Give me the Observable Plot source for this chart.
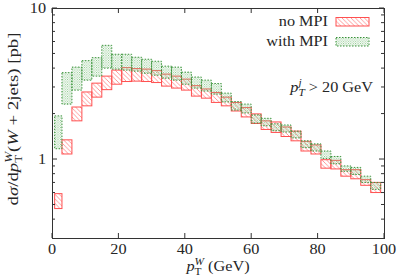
<!DOCTYPE html>
<html><head><meta charset="utf-8">
<script src="https://cdn.jsdelivr.net/npm/d3@7"></script>
<script src="https://cdn.jsdelivr.net/npm/@observablehq/plot@0.6"></script>
<style>body{margin:0;background:#fff}#chart{width:399px;height:279px}</style>
</head><body><div id="chart"></div>
<script>
// ---- data ----
const binStart = [0.8,3,6,9,12,15,18,21,24,27,30,33,36,39,42,45,48,51,54,57,60,63,66,69,72,75,78,81,84,87,90,93,96];
const binEnd   = [3,6,9,12,15,18,21,24,27,30,33,36,39,42,45,48,51,54,57,60,63,66,69,72,75,78,81,84,87,90,93,96,99];
const noMpiLow    = [0.47,1.08,1.79,2.25,2.57,2.88,3.13,3.26,3.28,3.26,3.21,3.04,2.95,2.86,2.61,2.53,2.37,2.25,2.08,1.90,1.72,1.57,1.50,1.41,1.32,1.13,1.08,0.87,0.86,0.77,0.74,0.67,0.60];
const noMpiHigh   = [0.59,1.34,2.21,2.78,3.18,3.54,3.88,4.03,3.97,3.94,3.85,3.65,3.54,3.38,3.06,2.91,2.76,2.57,2.37,2.19,1.99,1.79,1.76,1.63,1.53,1.31,1.24,0.99,0.98,0.85,0.85,0.73,0.70];
const withMpiLow  = [1.17,2.31,2.86,3.33,3.54,4.00,3.94,3.88,3.82,3.70,3.59,3.43,3.33,3.13,2.95,2.82,2.69,2.39,2.11,2.02,1.73,1.66,1.54,1.51,1.38,1.19,1.13,1.01,0.93,0.83,0.79,0.70,0.63];
const withMpiHigh = [1.93,3.73,4.06,4.48,4.69,5.66,4.94,4.94,4.72,4.58,4.44,4.12,4.06,3.76,3.49,3.33,3.16,2.73,2.40,2.31,1.96,1.86,1.71,1.68,1.53,1.32,1.26,1.13,1.04,0.90,0.88,0.77,0.70];
const seriesNames = ["no MPI", "with MPI"];
const xTicks = [0, 20, 40, 60, 80, 100];
const yTicks = [1, 10];
const yMinorTicks = [0.4,0.5,0.6,0.7,0.8,0.9,2,3,4,5,6,7,8,9];

// ---- build tables ----
const rows = (lo, hi, name) => binStart.map((x1, i) => ({x1, x2: binEnd[i], y1: lo[i], y2: hi[i], name}));
const noMpi = rows(noMpiLow, noMpiHigh, seriesNames[0]);
const withMpi = rows(withMpiLow, withMpiHigh, seriesNames[1]);

const FONT = "'Liberation Serif', serif";
const TXT = "#262626";
const RED = "#ff5050", RED_H = "#ff8c8c", GREEN = "#3a923a", GREEN_D = "#7cc07c";
const SX = 1.16; // stretch along the text direction

const chart = Plot.plot({
  width: 399, height: 279,
  marginLeft: 52, marginRight: 15, marginTop: 8, marginBottom: 41,
  style: {fontFamily: FONT, fontSize: "14px", color: TXT, background: "#fff"},
  x: {domain: [0, 100], axis: null},
  y: {type: "log", domain: [0.3, 10], axis: null},
  marks: [
    Plot.rect(noMpi, {x1: "x1", x2: "x2", y1: "y1", y2: "y2", fill: "url(#hatchRed)", stroke: RED, strokeWidth: 1}),
    Plot.rect(withMpi, {x1: "x1", x2: "x2", y1: "y1", y2: "y2", fill: "url(#dotGreen)", stroke: GREEN, strokeWidth: 1, strokeDasharray: "1.5,1.5"}),
    Plot.frame({stroke: "#333", strokeWidth: 1})
  ]
});
document.getElementById("chart").appendChild(chart);
const svg = d3.select(chart);

// patterns
const defs = svg.insert("defs", ":first-child");
const ph = defs.append("pattern").attr("id", "hatchRed").attr("patternUnits", "userSpaceOnUse")
  .attr("width", 4.5).attr("height", 4.5);
ph.append("path").attr("d", "M-1,-1 L5.5,5.5 M-1,3.5 L1,5.5 M3.5,-1 L5.5,1")
  .attr("stroke", RED_H).attr("stroke-width", 0.9).attr("fill", "none");
const pd = defs.append("pattern").attr("id", "dotGreen").attr("patternUnits", "userSpaceOnUse")
  .attr("width", 2.4).attr("height", 2.4);
pd.append("rect").attr("x", 0).attr("y", 0).attr("width", 0.9).attr("height", 0.9).attr("fill", GREEN_D);
pd.append("rect").attr("x", 1.2).attr("y", 1.2).attr("width", 0.9).attr("height", 0.9).attr("fill", GREEN_D);

// ticks (inward, mirrored), positioned with the library scales
const xs = chart.scale("x"), ys = chart.scale("y");
const L = 52, R = 399 - 15, T = 8, B = 279 - 41;
const tg = svg.append("g").attr("stroke", "#333").attr("stroke-width", 1);
for (const v of xTicks) {
  const px = xs.apply(v);
  tg.append("line").attr("x1", px).attr("x2", px).attr("y1", B).attr("y2", B - 5);
  tg.append("line").attr("x1", px).attr("x2", px).attr("y1", T).attr("y2", T + 5);
}
for (const v of yTicks) {
  const py = ys.apply(v);
  tg.append("line").attr("x1", L).attr("x2", L + 5).attr("y1", py).attr("y2", py);
  tg.append("line").attr("x1", R).attr("x2", R - 5).attr("y1", py).attr("y2", py);
}
for (const v of yMinorTicks) {
  const py = ys.apply(v);
  tg.append("line").attr("x1", L).attr("x2", L + 3).attr("y1", py).attr("y2", py);
  tg.append("line").attr("x1", R).attr("x2", R - 3).attr("y1", py).attr("y2", py);
}

// rich text helper
function richText(parent, parts, size, anchor) {
  const text = parent.append("text").attr("font-size", size).attr("fill", TXT)
    .attr("font-family", FONT).attr("text-anchor", anchor || "start");
  let cur = 0, prev = null, pending = 0;
  for (const p of parts) {
    const off = p.pos === "sub" ? size * 0.28 : p.pos === "sup" ? -size * 0.42 : 0;
    const ts = text.append("tspan").text(p.t)
      .attr("font-style", p.it ? "italic" : "normal")
      .attr("font-size", p.pos ? size * 0.7 : size)
      .attr("dy", off - cur)
      .style("white-space", "pre");
    cur = off;
    if (p.stack && prev) {
      const pw = prev.node().getComputedTextLength();
      ts.attr("dx", -pw);
      const w = ts.node().getComputedTextLength();
      pending = Math.max(0, pw - w);
    } else if (pending) {
      ts.attr("dx", pending);
      pending = 0;
    }
    prev = ts;
  }
  return text;
}
const lg = svg.append("g");

// tick labels
for (const v of xTicks) {
  richText(lg, [{t: String(v)}], 14, "middle").attr("transform", `translate(${xs.apply(v)},254) scale(${SX},1)`);
}
for (const v of yTicks) {
  richText(lg, [{t: String(v)}], 14, "end").attr("transform", `translate(46,${ys.apply(v) + 4.8}) scale(${SX},1)`);
}

// y label
richText(lg, [
  {t: "d"}, {t: "σ", it: true}, {t: "/d"}, {t: "p", it: true}, {t: "T", pos: "sub"},
  {t: "W", pos: "sup", it: true, stack: true}, {t: "("}, {t: "W", it: true}, {t: " + 2jets) [pb]"}
], 15, "middle").attr("transform", `translate(18,119) rotate(-90) scale(1.25,1)`);

// x label
richText(lg, [
  {t: "p", it: true}, {t: "T", pos: "sub"}, {t: "W", pos: "sup", it: true, stack: true}, {t: " (GeV)"}
], 14, "middle").attr("transform", `translate(218,271) scale(${SX},1)`);

// annotation
richText(lg, [
  {t: "p", it: true}, {t: "T", pos: "sub", it: true}, {t: "j", pos: "sup", it: true, stack: true}, {t: " > 20 GeV"}
], 14, "end").attr("transform", `translate(373,92) scale(${SX},1)`);

// legend
const legend = [
  {name: seriesNames[0], fill: "url(#hatchRed)", stroke: RED, dash: null, y: 26},
  {name: seriesNames[1], fill: "url(#dotGreen)", stroke: GREEN, dash: "1.5,1.5", y: 46}
];
for (const e of legend) {
  richText(lg, [{t: e.name}], 14, "end").attr("transform", `translate(328,${e.y}) scale(${SX},1)`);
  lg.append("rect").attr("x", 336).attr("y", e.y - 8.5).attr("width", 33).attr("height", 8.5)
    .attr("fill", e.fill).attr("stroke", e.stroke).attr("stroke-dasharray", e.dash);
}
</script>
</body></html>
